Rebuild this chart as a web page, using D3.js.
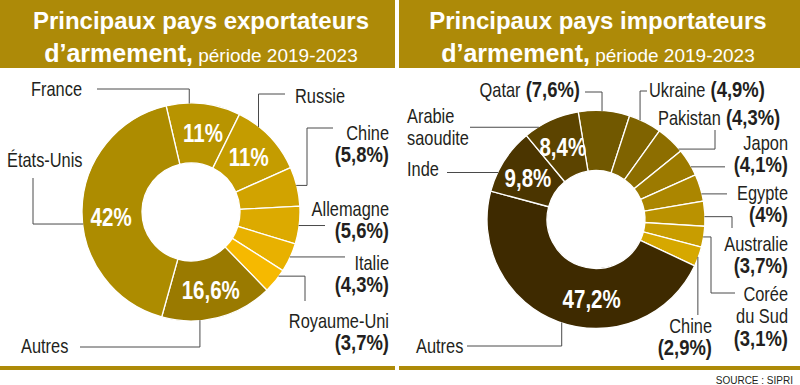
<!DOCTYPE html>
<html>
<head>
<meta charset="utf-8">
<script src="https://cdn.jsdelivr.net/npm/d3@7/dist/d3.min.js"></script>
<style>
  body { margin: 0; background: #fff; }
  svg { display: block; }
  .lbl { font-family: "Liberation Sans", Arial, sans-serif; fill: #231f20; }
  .ttl { font-family: "Liberation Sans", Arial, sans-serif; fill: #fff; }
</style>
</head>
<body>
<svg id="chart" width="800" height="385"></svg>
<script>
// ---- data ----
var expTitle = "Principaux pays exportateurs";
var impTitle = "Principaux pays importateurs";
var subTitle = "d\u2019armement,";
var period = "période 2019-2023";
var source = "SOURCE : SIPRI";

var expNames = ["France", "Russie", "Chine", "Allemagne", "Italie", "Royaume-Uni", "Autres", "États-Unis"];
var expShares = [11, 11, 5.8, 5.6, 4.3, 3.7, 16.6, 42];
var expColors = ["#b89400", "#c49c00", "#d1a300", "#dcaa00", "#e8b100", "#f6b900", "#9a7a00", "#ad8c00"];

var impNames = ["Qatar", "Ukraine", "Pakistan", "Japon", "Egypte", "Australie", "Corée du Sud", "Chine", "Autres", "Inde", "Arabie saoudite"];
var impShares = [7.6, 4.9, 4.3, 4.1, 4, 3.7, 3.1, 2.9, 47.2, 9.8, 8.4];
var impColors = ["#715800", "#7f6300", "#8d6e00", "#9c7a00", "#ab8600", "#ba9200", "#c89d00", "#d6a800", "#3e2a00", "#4b3500", "#5c4400"];

// ---- layout (label placement, leader routes) ----
// t = where on the slice the leader starts, moves = ["h", x] / ["v", y]
// mode: in = value inside ring, inline = "name (v)", stack = name then (v) below
var expLayout = [
  {mode: "in", t: .31, moves: [["v", 89], ["h", 97]], x: 82, y: 96, anchor: "end", it: .55},
  {mode: "in", t: .305, moves: [["v", 94], ["h", 285]], x: 295, y: 103, anchor: "start"},
  {mode: "stack", t: .47, moves: [["h", 307], ["v", 128], ["h", 333]], x: 389, y: 140, anchor: "end"},
  {mode: "stack", t: .51, moves: [["h", 325]], x: 389, y: 216, anchor: "end"},
  {mode: "stack", t: .48, moves: [["h", 345]], x: 389, y: 270, anchor: "end"},
  {mode: "stack", t: .28, moves: [["h", 305], ["v", 301]], x: 389, y: 328, anchor: "end"},
  {mode: "in", t: .66, moves: [["v", 347], ["h", 80]], x: 21, y: 353, anchor: "start"},
  {mode: "in", t: .45, moves: [["h", 33], ["v", 178]], x: 7, y: 167, anchor: "start", it: .47}
];
var impLayout = [
  {mode: "inline", t: .46, moves: [["v", 92], ["h", 585]], x: 580, y: 97, anchor: "end"},
  {mode: "inline", t: .34, moves: [["v", 91], ["h", 647]], x: 649, y: 97, anchor: "start"},
  {mode: "inline", t: .9, moves: [["h", 715], ["v", 130]], x: 658, y: 125, anchor: "start"},
  {mode: "stack", t: .67, moves: [["h", 725]], x: 788, y: 150, anchor: "end"},
  {mode: "stack", t: .73, moves: [["h", 727]], x: 788, y: 200, anchor: "end"},
  {mode: "stack", t: .62, moves: [["h", 732], ["v", 228]], x: 788, y: 251, anchor: "end"},
  {mode: "stack", t: .51, moves: [["h", 711], ["v", 293], ["h", 735]], x: 788, y: 301, anchor: "end", split: [1, 2]},
  {mode: "stack", t: .52, moves: [["v", 315]], x: 712, y: 333, anchor: "end"},
  {mode: "in", t: .49, moves: [["v", 346], ["h", 467]], x: 416, y: 353, anchor: "start", it: .4},
  {mode: "in", t: .3, moves: [["h", 447]], x: 407, y: 176, anchor: "start", it: .47},
  {mode: "in", t: .26, moves: [["h", 470]], x: 407, y: 123, anchor: "start", split: [1, 1]}
];

var R = 109, r0 = 49, lineH = 22.5;
var narrow = 0.82; // no condensed face installed, squeeze the glyphs instead

var svg = d3.select("#chart");

function fmt(v) { return "(" + String(v).replace(".", ",") + "%)"; }
function pct(v) { return String(v).replace(".", ",") + "%"; }

// condensed text at x,y
function ntext(x, y, anchor) {
  return svg.append("text")
    .attr("class", "lbl")
    .attr("transform", "translate(" + [x, y] + ") scale(" + narrow + ",1)")
    .attr("text-anchor", anchor);
}

// header band + bottom rule for one panel
function panelFrame(x0, x1, title, cx) {
  svg.append("rect")
    .attr("x", x0).attr("y", 0)
    .attr("width", x1 - x0).attr("height", 68)
    .attr("fill", "#ad8a08");
  svg.append("rect")
    .attr("x", x0).attr("y", 366)
    .attr("width", x1 - x0).attr("height", 4)
    .attr("fill", "#ad8a08");
  svg.append("text")
    .attr("class", "ttl")
    .attr("x", cx).attr("y", 29)
    .attr("text-anchor", "middle")
    .style("font-weight", "bold")
    .style("font-size", "24px")
    .text(title);
  var t2 = svg.append("text")
    .attr("class", "ttl")
    .attr("x", cx).attr("y", 62)
    .attr("text-anchor", "middle");
  t2.append("tspan").style("font-weight", "bold").style("font-size", "25px").text(subTitle);
  t2.append("tspan").style("font-size", "19px").text(" " + period);
}

function donut(names, shares, colors, layout, cx, cy, startDeg) {
  var a0 = startDeg * Math.PI / 180;
  var pie = d3.pie().sort(null).startAngle(a0).endAngle(a0 + 2 * Math.PI);
  var arcs = pie(shares);
  var arc = d3.arc().innerRadius(r0).outerRadius(R);
  var g = svg.append("g").attr("transform", "translate(" + [cx, cy] + ")");

  g.selectAll("path.slice")
    .data(arcs)
    .enter().append("path")
      .attr("class", "slice")
      .attr("d", arc)
      .attr("fill", function(d, i) { return colors[i]; })
      .attr("stroke", "#fff")
      .attr("stroke-width", 1.3);

  function at(d, t, rad) {
    var a = d.startAngle + t * (d.endAngle - d.startAngle);
    return [cx + rad * Math.sin(a), cy - rad * Math.cos(a)];
  }

  var line = d3.line();
  arcs.forEach(function(d, i) {
    var L = layout[i];
    // leader line
    var p = at(d, L.t, R - 0.5);
    var pts = [p];
    L.moves.forEach(function(m) {
      var last = pts[pts.length - 1];
      pts.push(m[0] == "h" ? [m[1], last[1]] : [last[0], m[1]]);
    });
    svg.append("path")
      .attr("d", line(pts))
      .attr("fill", "none")
      .attr("stroke", "#4a4a4a")
      .attr("stroke-width", 1);

    // outside label
    var words = names[i].split(" ");
    var split = L.split || [words.length];
    var nameLines = [], k = 0;
    split.forEach(function(n) { nameLines.push(words.slice(k, k + n).join(" ")); k += n; });

    var txt = ntext(L.x, L.y, L.anchor).style("font-size", "20px");
    nameLines.forEach(function(s, j) {
      txt.append("tspan").attr("x", 0).attr("y", j * lineH).text(s);
    });
    if (L.mode == "inline") {
      txt.append("tspan").style("font-weight", "bold").style("font-size", "22.5px").text(" " + fmt(shares[i]));
    } else if (L.mode == "stack") {
      txt.append("tspan")
        .attr("x", 0).attr("y", nameLines.length * lineH)
        .style("font-weight", "bold").style("font-size", "22.5px")
        .text(fmt(shares[i]));
    } else {
      // value inside the ring
      var c = at(d, L.it || .5, 80);
      ntext(c[0], c[1], "middle")
        .attr("dy", "0.36em")
        .style("fill", "#fff")
        .style("font-weight", "bold")
        .style("font-size", "25px")
        .text(pct(shares[i]));
    }
  });
}

panelFrame(0, 395, expTitle, 201);
panelFrame(399, 800, impTitle, 598);

donut(expNames, expShares, expColors, expLayout, 191, 212, -13.2);
donut(impNames, impShares, impColors, impLayout, 596, 219.5, -9.4);

svg.append("text")
  .attr("class", "lbl")
  .attr("x", 793).attr("y", 384)
  .attr("text-anchor", "end")
  .style("font-size", "10px")
  .text(source);
</script>
</body>
</html>
